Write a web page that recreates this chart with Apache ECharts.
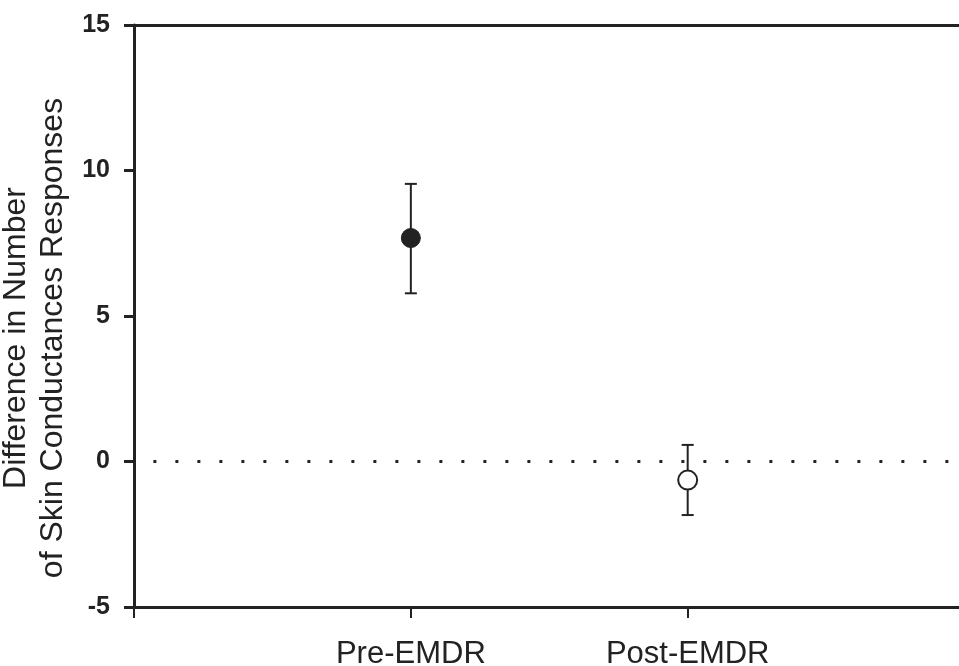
<!DOCTYPE html>
<html>
<head>
<meta charset="utf-8">
<script src="https://cdn.jsdelivr.net/npm/echarts@6/dist/echarts.min.js"></script>
<style>
  html, body { margin: 0; padding: 0; background: #fff; }
  #chart { width: 959px; height: 666px; }
</style>
</head>
<body>
<div id="chart"></div>
<script>
// data
var groups = ['Pre-EMDR', 'Post-EMDR'];
var groupPos = [1, 2];
var means = [7.68, -0.64];
var upper = [9.54, 0.57];
var lower = [5.78, -1.84];
var yTicks = [-5, 0, 5, 10, 15];

var ink = '#222';

// error bars
function errItem(params, api) {
  var x = api.value(0);
  var top = api.coord([x, api.value(1)]);
  var bot = api.coord([x, api.value(2)]);
  var cap = 6;
  return {
    type: 'group',
    children: [
      { type: 'line', shape: { x1: top[0], y1: top[1], x2: bot[0], y2: bot[1] }, style: { stroke: ink, lineWidth: 2 } },
      { type: 'line', shape: { x1: top[0] - cap, y1: top[1], x2: top[0] + cap, y2: top[1] }, style: { stroke: ink, lineWidth: 2 } },
      { type: 'line', shape: { x1: bot[0] - cap, y1: bot[1], x2: bot[0] + cap, y2: bot[1] }, style: { stroke: ink, lineWidth: 2 } }
    ]
  };
}

var errData = groupPos.map(function (p, i) { return [p, upper[i], lower[i]]; });

var chart = echarts.init(document.getElementById('chart'));
chart.setOption({
  animation: false,
  backgroundColor: '#fff',
  textStyle: { fontFamily: 'Liberation Sans, Arial, sans-serif' },
  grid: { left: 134, right: 0, top: 25, bottom: 59, outerBoundsMode: 'none', containLabel: false },
  xAxis: [{
    type: 'value',
    min: 0,
    max: 2.98,
    interval: 1,
    position: 'bottom',
    axisLine: { show: true, onZero: false, lineStyle: { color: ink, width: 3 } },
    axisTick: { show: true, length: 11, customValues: [0, 1, 2], lineStyle: { color: ink, width: 2 } },
    splitLine: { show: false },
    axisLabel: {
      margin: 32,
      fontSize: 31,
      color: ink,
      customValues: groupPos,
      formatter: function (v) {
        var k = groupPos.indexOf(v);
        return k >= 0 ? groups[k] : '';
      }
    }
  }, {
    type: 'value',
    min: 0,
    max: 2.98,
    position: 'top',
    axisLine: { show: true, onZero: false, lineStyle: { color: ink, width: 3 } },
    axisTick: { show: false },
    axisLabel: { show: false },
    splitLine: { show: false }
  }],
  yAxis: {
    type: 'value',
    min: yTicks[0],
    max: yTicks[yTicks.length - 1],
    interval: 5,
    axisLine: { show: true, lineStyle: { color: ink, width: 3 } },
    axisTick: { show: true, length: 10, lineStyle: { color: ink, width: 3 } },
    splitLine: { show: false },
    axisLabel: { margin: 24, fontSize: 25, fontWeight: 'bold', color: ink },
    name: 'Difference in Number\nof Skin Conductances Responses',
    nameLocation: 'middle',
    nameGap: 50,
    nameTextStyle: { fontSize: 32, color: ink, lineHeight: 37, padding: [0, 44, 0, 0] }
  },
  series: [{
    type: 'custom',
    renderItem: errItem,
    data: errData,
    z: 2,
    markLine: {
      silent: true,
      symbol: 'none',
      label: { show: false },
      lineStyle: { color: ink, width: 3, type: [3, 19], opacity: 1 },
      data: [[{ coord: [0.07, 0] }, { coord: [2.96, 0] }]]
    }
  }, {
    type: 'scatter',
    symbol: 'circle',
    symbolSize: 19,
    z: 3,
    data: [
      { value: [groupPos[0], means[0]], itemStyle: { color: ink, borderColor: ink, opacity: 1 } },
      { value: [groupPos[1], means[1]], itemStyle: { color: '#fff', borderColor: ink, borderWidth: 2, opacity: 1 } }
    ]
  }]
});
</script>
</body>
</html>
